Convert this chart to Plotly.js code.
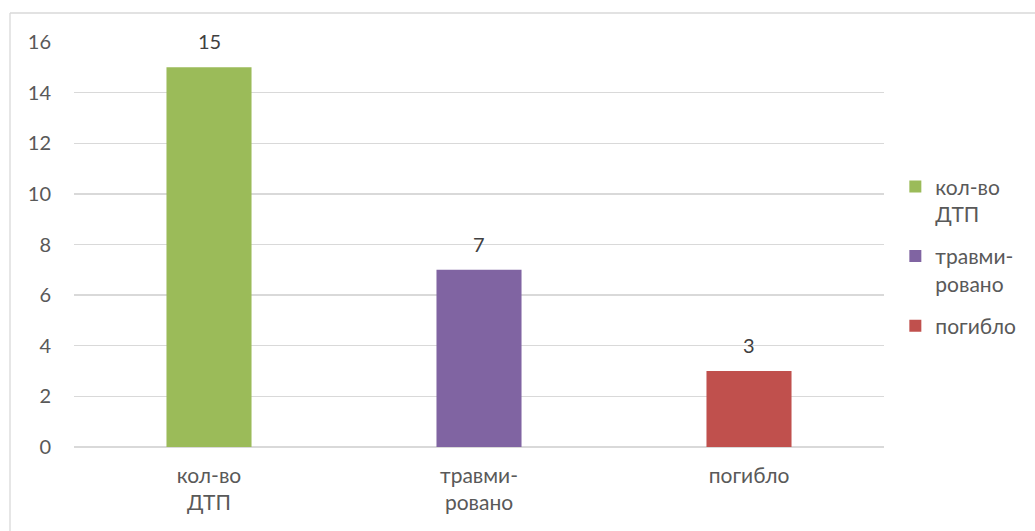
<!DOCTYPE html>
<html>
<head>
<meta charset="utf-8">
<script src="https://cdn.plot.ly/plotly-3.0.1.min.js"></script>
<style>
html,body{margin:0;padding:0;background:#fff;}
#chart{width:1035px;height:531px;}
</style>
</head>
<body>
<div id="chart"></div>
<script>
const categories = ["кол-во<br>ДТП", "травми-<br>ровано", "погибло"];
const legendNames = ["кол-во<br>ДТП", "травми-<br>ровано", "погибло"];
const values = [15, 7, 3];
const colors = ["#9BBB59", "#8064A2", "#C0504D"];
const yTicks = [0, 2, 4, 6, 8, 10, 12, 14, 16];

const FONT = "Lato, 'Open Sans', sans-serif";

const traces = categories.map((c, i) => ({
  type: "bar",
  x: [c],
  y: [values[i]],
  name: legendNames[i],
  legendgroup: "g" + i,
  marker: {color: colors[i]},
  width: 0.315,
  hoverinfo: "none"
}));

const annotations = categories.map((c, i) => ({
  x: c,
  y: values[i],
  xref: "x",
  yref: "y",
  text: String(values[i]),
  showarrow: false,
  yanchor: "middle",
  yshift: 26,
  font: {family: FONT, size: 20, color: "#404040"}
}));

const layout = {
  width: 1035,
  height: 531,
  paper_bgcolor: "#ffffff",
  plot_bgcolor: "#ffffff",
  margin: {l: 74, r: 151, t: 42, b: 84, autoexpand: false},
  barmode: "overlay",
  font: {family: FONT, size: 21, color: "#595959"},
  xaxis: {
    type: "category",
    categoryorder: "array",
    categoryarray: categories,
    showgrid: false,
    zeroline: false,
    showline: false,
    ticks: "",
    ticklabelstandoff: 14,
    tickfont: {family: FONT, size: 21, color: "#595959"},
    fixedrange: true
  },
  yaxis: {
    range: [0, 16],
    tickvals: yTicks,
    ticktext: yTicks.map(String),
    showgrid: true,
    gridcolor: "#d9d9d9",
    gridwidth: 1.3,
    zeroline: true,
    zerolinecolor: "#d9d9d9",
    zerolinewidth: 1.3,
    showline: false,
    ticks: "",
    ticklabelstandoff: 22,
    tickfont: {family: FONT, size: 20, color: "#595959"},
    fixedrange: true
  },
  legend: {
    x: 1.014,
    y: 0.693,
    xanchor: "left",
    yanchor: "top",
    valign: "top",
    traceorder: "grouped",
    tracegroupgap: 12,
    itemwidth: 30,
    font: {family: FONT, size: 21, color: "#595959"},
    bgcolor: "rgba(0,0,0,0)"
  },
  annotations: annotations,
  shapes: [
    {type: "line", xref: "paper", yref: "paper", x0: -64/810, x1: -64/810, y0: 1 + 29/405, y1: -84/405 - 0.1, line: {color: "#d9d9d9", width: 1.3}},
    {type: "line", xref: "paper", yref: "paper", x0: -64/810, x1: 1 + 160/810, y0: 1 + 29/405, y1: 1 + 29/405, line: {color: "#d9d9d9", width: 1.3}}
  ],
  showlegend: true
};

Plotly.newPlot("chart", traces, layout, {displayModeBar: false, staticPlot: true});
</script>
</body>
</html>
